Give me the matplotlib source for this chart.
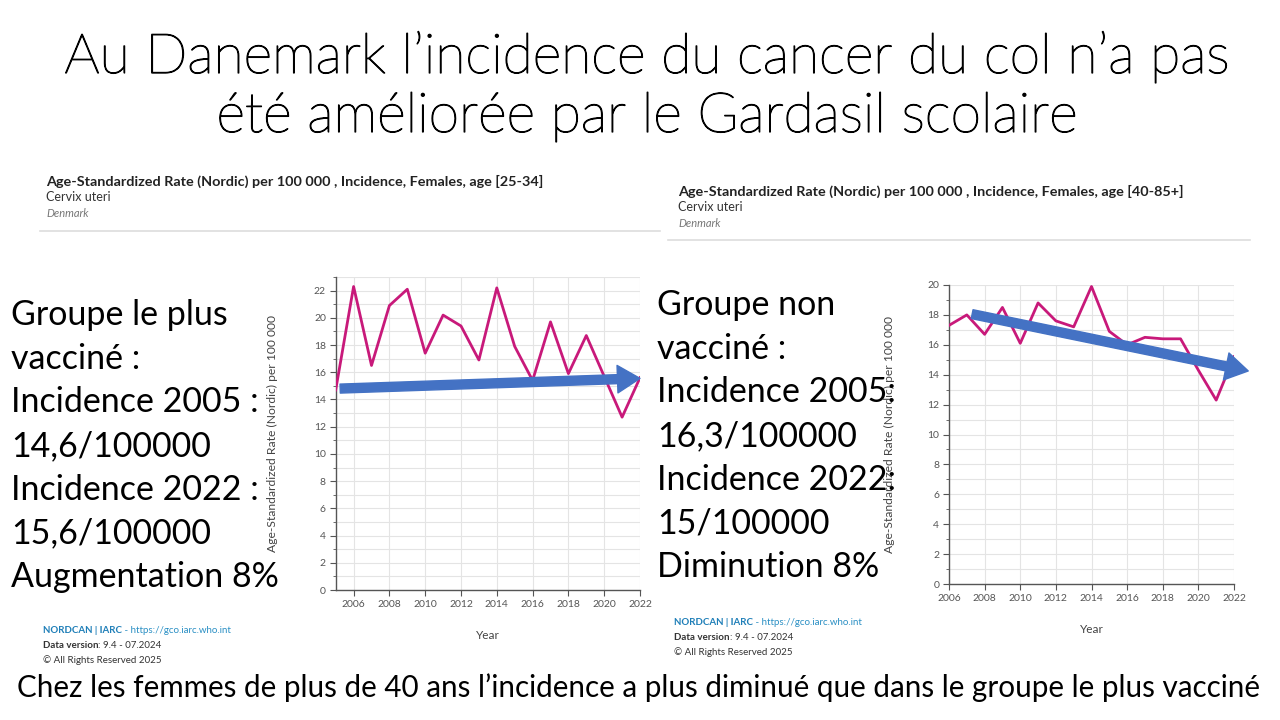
import matplotlib
matplotlib.use('Agg')
import matplotlib.pyplot as plt
import matplotlib.patheffects as pe
from matplotlib.ticker import MultipleLocator

# Data
years_young = list(range(2005, 2023))
rate_young = [14.7, 22.3, 16.5, 20.9, 22.1, 17.4, 20.2, 19.4, 16.9, 22.2,
              17.9, 15.4, 19.7, 15.9, 18.7, 15.7, 12.7, 15.6]

years_old = list(range(2006, 2023))
rate_old = [17.3, 18.0, 16.7, 18.5, 16.1, 18.8, 17.6, 17.2, 19.9, 16.9,
            16.0, 16.5, 16.4, 16.4, 14.3, 12.3, 15.2]

# hand drawn trend arrows (start, end) in data units
arrow_young = [(2005.25, 14.8), (2022.0, 15.55)]
arrow_old = [(2007.3, 18.05), (2022.8, 14.25)]

title_lines = ["Au Danemark l\u2019incidence du cancer du col n\u2019a pas",
               "\u00e9t\u00e9 am\u00e9lior\u00e9e par le Gardasil scolaire"]
left_lines = ["Groupe le plus", "vaccin\u00e9 :", "Incidence 2005 :", "14,6/100000",
              "Incidence 2022 :", "15,6/100000", "Augmentation 8%"]
right_lines = ["Groupe non", "vaccin\u00e9 :", "Incidence 2005:", "16,3/100000",
               "Incidence 2022:", "15/100000", "Diminution 8%"]
bottom_line = ("Chez les femmes de plus de 40 ans l\u2019incidence a plus diminu\u00e9 "
               "que dans le groupe le plus vaccin\u00e9")
header_young = "Age-Standardized Rate (Nordic) per 100 000 , Incidence, Females, age [25-34]"
header_old = "Age-Standardized Rate (Nordic) per 100 000 , Incidence, Females, age [40-85+]"
ylabel = "Age-Standardized Rate (Nordic) per 100 000"

LINE = '#c8197a'
ARROW = '#4472c4'
W, H = 1280, 720

plt.rcParams['font.family'] = ['Lato', 'DejaVu Sans']
fig = plt.figure(figsize=(12.8, 7.2), dpi=100)
fig.patch.set_facecolor('white')
renderer = fig.canvas.get_renderer()


def px(x, y):
    return x / W, 1 - y / H


def slide_text(x, y, s, size, **kw):
    return fig.text(*px(x, y), s, fontsize=size, va='baseline', ha='left', **kw)


def chain(x, y, parts, size):
    # write pieces one after another on the same baseline
    for s, kw in parts:
        t = slide_text(x, y, s, size, **kw)
        x += t.get_window_extent(renderer).width


# title (light font, slightly thickened)
for s, base in zip(title_lines, [73, 132]):
    fig.text(*px(W / 2 + 7, base), s, fontsize=39.8, ha='center', va='baseline',
             fontweight='light',
             path_effects=[pe.withStroke(linewidth=0.9, foreground='black')])


# headers of the screenshots
def header(x, y, text, line_y, x0, x1):
    slide_text(x, y, text, 10.4, fontweight='bold', color='#222222')
    slide_text(x, y + 15, "Cervix uteri", 9, color='#333333')
    slide_text(x, y + 31, "Denmark", 8, style='italic', color='#777777')
    fig.add_artist(plt.Line2D([x0 / W, x1 / W], [1 - line_y / H] * 2,
                              color='#dddddd', lw=1.2))


header(46, 186, header_young, 231, 40, 660)
header(678, 196, header_old, 240, 668, 1250)


def footer(x, y):
    chain(x, y, [("NORDCAN | IARC", dict(fontweight='bold', color='#1f7fb8')),
                 (" - https://gco.iarc.who.int", dict(color='#2a8fc4'))], 7)
    chain(x, y + 15, [("Data version", dict(fontweight='bold', color='#333333')),
                      (": 9.4 - 07.2024", dict(color='#333333'))], 7)
    slide_text(x, y + 30, "\u00a9 All Rights Reserved 2025", 7, color='#333333')


footer(43, 633)
footer(674, 625)

# side text blocks
for i, s in enumerate(left_lines):
    slide_text(11, 325 + i * 43.7, s, 24.5)
for i, s in enumerate(right_lines):
    slide_text(657, 315 + i * 43.7, s, 24.5)

slide_text(17, 697, bottom_line, 21.3)


def chart(rect, years, rates, ymax, xmin, arrow, ylab_x):
    ax = fig.add_axes(rect)
    ax.plot(years, rates, color=LINE, lw=2, zorder=3)
    ax.set_xlim(xmin, 2022)
    ax.set_ylim(0, ymax)
    ax.set_xticks(range(2006, 2023, 2))
    ax.yaxis.set_major_locator(MultipleLocator(2))
    ax.yaxis.set_minor_locator(MultipleLocator(1))
    ax.grid(True, which='both', color='#e4e4e4', lw=0.8)
    ax.grid(False, which='minor', axis='x')
    ax.set_axisbelow(True)
    for side in ['top', 'right']:
        ax.spines[side].set_visible(False)
    for side in ['left', 'bottom']:
        ax.spines[side].set_color('#555555')
        ax.spines[side].set_linewidth(1)
    ax.tick_params(which='major', length=4, color='#555555', labelsize=7.5,
                   labelcolor='#555555', pad=3)
    ax.tick_params(which='minor', axis='y', length=2, color='#555555')
    ax.set_xlabel("Year", fontsize=8.5, color='#444444', labelpad=15)
    ax.set_ylabel(ylabel, fontsize=8.7, color='#444444')
    ax.yaxis.set_label_coords(ylab_x, 0.5)
    ax.annotate('', xy=arrow[1], xytext=arrow[0], annotation_clip=False,
                arrowprops=dict(arrowstyle='simple,head_length=0.9,head_width=1.1,tail_width=0.36',
                                color=ARROW, mutation_scale=18, shrinkA=0, shrinkB=0),
                zorder=4)
    return ax


chart([335.7 / W, 1 - 590 / H, (640 - 335.7) / W, (590 - 277) / H],
      years_young, rate_young, 23, 2005, arrow_young, -0.19)
chart([949 / W, 1 - 584 / H, (1234 - 949) / W, (584 - 285) / H],
      years_old, rate_old, 20, 2006, arrow_old, -0.19)

fig.savefig('out.png', dpi=100, facecolor='white')
